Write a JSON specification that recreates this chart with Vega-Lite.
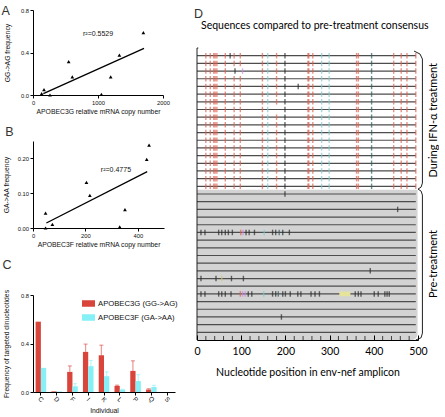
{
"$schema": "https://vega.github.io/schema/vega-lite/v6.json",
"padding": {"left": 1, "top": 4, "right": 0, "bottom": 0},
"background": "white",
"config": {
 "view": {"stroke": null},
 "font": "Liberation Sans",
 "axis": {"grid": false, "domainColor": "#000", "tickColor": "#000", "labelColor": "#111", "titleColor": "#111", "labelFont": "Liberation Sans", "titleFont": "Liberation Sans", "labelFontSize": 5.8, "titleFontSize": 6.8, "titleFontWeight": "normal", "tickSize": 3, "labelPadding": 1.5, "labelFlush": false, "labelOverlap": false, "domainWidth": 1, "tickWidth": 1},
 "title": {"font": "Liberation Sans", "fontSize": 12.5, "fontWeight": "normal", "color": "#333", "anchor": "start", "frame": "bounds"}
},
"resolve": {"scale": {"color": "independent"}},
"datasets": {
 "a_pts": [{"x":133,"y":0.013},{"x":169,"y":0.05},{"x":262,"y":0.0},{"x":549,"y":0.314},{"x":605,"y":0.17},{"x":1052,"y":0.005},{"x":1195,"y":0.17},{"x":1329,"y":0.376},{"x":1698,"y":0.587}],
 "a_fit": [{"x":159,"y":0.0125},{"x":1708,"y":0.439}],
 "a_r2": [{"x":769,"y":0.571,"t":"r²=0.5529"}],
 "b_pts": [{"x":48,"y":0.043},{"x":74,"y":0.0105},{"x":48,"y":0.0},{"x":204,"y":0.131},{"x":217,"y":0.094},{"x":331,"y":0.003},{"x":351,"y":0.053},{"x":434,"y":0.197},{"x":443,"y":0.238}],
 "b_fit": [{"x":51,"y":0.0144},{"x":436,"y":0.162}],
 "b_r2": [{"x":259,"y":0.1675,"t":"r²=0.4775"}],
 "c_bars": [
  {"ind":"C","enz":"APOBEC3G (GG->AG)","v":0.58},{"ind":"C","enz":"APOBEC3F (GA->AA)","v":0.199},
  {"ind":"D","enz":"APOBEC3G (GG->AG)","v":0.005},{"ind":"D","enz":"APOBEC3F (GA->AA)","v":0.004},
  {"ind":"F","enz":"APOBEC3G (GG->AG)","v":0.166},{"ind":"F","enz":"APOBEC3F (GA->AA)","v":0.047},
  {"ind":"I","enz":"APOBEC3G (GG->AG)","v":0.331},{"ind":"I","enz":"APOBEC3F (GA->AA)","v":0.213},
  {"ind":"K","enz":"APOBEC3G (GG->AG)","v":0.303},{"ind":"K","enz":"APOBEC3F (GA->AA)","v":0.13},
  {"ind":"L","enz":"APOBEC3G (GG->AG)","v":0.05},{"ind":"L","enz":"APOBEC3F (GA->AA)","v":0.019},
  {"ind":"P","enz":"APOBEC3G (GG->AG)","v":0.174},{"ind":"P","enz":"APOBEC3F (GA->AA)","v":0.09},
  {"ind":"Q","enz":"APOBEC3G (GG->AG)","v":0.02},{"ind":"Q","enz":"APOBEC3F (GA->AA)","v":0.041},
  {"ind":"S","enz":"APOBEC3G (GG->AG)","v":0},{"ind":"S","enz":"APOBEC3F (GA->AA)","v":0}],
 "c_err": [
  {"ind":"F","enz":"APOBEC3G (GG->AG)","v":0.166,"hi":0.215},{"ind":"F","enz":"APOBEC3F (GA->AA)","v":0.047,"hi":0.069},
  {"ind":"I","enz":"APOBEC3G (GG->AG)","v":0.331,"hi":0.395},{"ind":"I","enz":"APOBEC3F (GA->AA)","v":0.213,"hi":0.26},
  {"ind":"K","enz":"APOBEC3G (GG->AG)","v":0.303,"hi":0.386},{"ind":"K","enz":"APOBEC3F (GA->AA)","v":0.13,"hi":0.166},
  {"ind":"L","enz":"APOBEC3G (GG->AG)","v":0.05,"hi":0.056},{"ind":"L","enz":"APOBEC3F (GA->AA)","v":0.019,"hi":0.022},
  {"ind":"P","enz":"APOBEC3G (GG->AG)","v":0.174,"hi":0.257},{"ind":"P","enz":"APOBEC3F (GA->AA)","v":0.09,"hi":0.143},
  {"ind":"Q","enz":"APOBEC3G (GG->AG)","v":0.02,"hi":0.027},{"ind":"Q","enz":"APOBEC3F (GA->AA)","v":0.041,"hi":0.055}],
 "d_rows": [{"r":0},{"r":1},{"r":2},{"r":3},{"r":4},{"r":5},{"r":6},{"r":7},{"r":8},{"r":9},{"r":10},{"r":11},{"r":12},{"r":13},{"r":14},{"r":15},{"r":16},{"r":17},{"r":18},{"r":19},{"r":20},{"r":21},{"r":22},{"r":23},{"r":24},{"r":25},{"r":26},{"r":27},{"r":28},{"r":29},{"r":30},{"r":31},{"r":32},{"r":33},{"r":34},{"r":35},{"r":36}],
 "d_minor": [{"p":20},{"p":40},{"p":60},{"p":80},{"p":120},{"p":140},{"p":160},{"p":180},{"p":220},{"p":240},{"p":260},{"p":280},{"p":320},{"p":340},{"p":360},{"p":380},{"p":420},{"p":440},{"p":460},{"p":480}],
 "d_muts": [
{"r":0,"p":20,"c":"R"},{"r":0,"p":30,"c":"R"},{"r":0,"p":38,"c":"R"},{"r":0,"p":41,"c":"R"},{"r":0,"p":45,"c":"R"},{"r":0,"p":64,"c":"R"},{"r":0,"p":75,"c":"K"},{"r":0,"p":84,"c":"R"},{"r":0,"p":98,"c":"R"},{"r":0,"p":148,"c":"R"},{"r":0,"p":160,"c":"C"},{"r":0,"p":180,"c":"R"},{"r":0,"p":199,"c":"K"},{"r":0,"p":251,"c":"R"},{"r":0,"p":253,"c":"R"},{"r":0,"p":262,"c":"R"},{"r":0,"p":282,"c":"C"},{"r":0,"p":299,"c":"C"},{"r":0,"p":361,"c":"R"},{"r":0,"p":365,"c":"R"},{"r":0,"p":395,"c":"T"},{"r":0,"p":445,"c":"R"},{"r":0,"p":462,"c":"R"},{"r":0,"p":475,"c":"R"},{"r":0,"p":495,"c":"R"},
{"r":1,"p":20,"c":"R"},{"r":1,"p":30,"c":"R"},{"r":1,"p":38,"c":"R"},{"r":1,"p":41,"c":"R"},{"r":1,"p":45,"c":"R"},{"r":1,"p":64,"c":"R"},{"r":1,"p":84,"c":"R"},{"r":1,"p":98,"c":"R"},{"r":1,"p":148,"c":"R"},{"r":1,"p":160,"c":"C"},{"r":1,"p":180,"c":"R"},{"r":1,"p":199,"c":"K"},{"r":1,"p":251,"c":"R"},{"r":1,"p":253,"c":"R"},{"r":1,"p":262,"c":"R"},{"r":1,"p":282,"c":"C"},{"r":1,"p":299,"c":"C"},{"r":1,"p":361,"c":"R"},{"r":1,"p":365,"c":"R"},{"r":1,"p":395,"c":"T"},{"r":1,"p":445,"c":"R"},{"r":1,"p":462,"c":"R"},{"r":1,"p":475,"c":"R"},{"r":1,"p":495,"c":"R"},
{"r":2,"p":20,"c":"R"},{"r":2,"p":30,"c":"R"},{"r":2,"p":38,"c":"R"},{"r":2,"p":41,"c":"R"},{"r":2,"p":45,"c":"R"},{"r":2,"p":64,"c":"R"},{"r":2,"p":86,"c":"K"},{"r":2,"p":103,"c":"M"},{"r":2,"p":148,"c":"R"},{"r":2,"p":160,"c":"C"},{"r":2,"p":180,"c":"R"},{"r":2,"p":199,"c":"K"},{"r":2,"p":251,"c":"R"},{"r":2,"p":253,"c":"R"},{"r":2,"p":262,"c":"R"},{"r":2,"p":282,"c":"C"},{"r":2,"p":299,"c":"C"},{"r":2,"p":361,"c":"R"},{"r":2,"p":365,"c":"R"},{"r":2,"p":395,"c":"T"},{"r":2,"p":445,"c":"R"},{"r":2,"p":462,"c":"R"},{"r":2,"p":475,"c":"R"},{"r":2,"p":495,"c":"R"},
{"r":3,"p":20,"c":"R"},{"r":3,"p":30,"c":"R"},{"r":3,"p":38,"c":"R"},{"r":3,"p":41,"c":"R"},{"r":3,"p":45,"c":"R"},{"r":3,"p":64,"c":"R"},{"r":3,"p":84,"c":"R"},{"r":3,"p":98,"c":"R"},{"r":3,"p":148,"c":"R"},{"r":3,"p":160,"c":"C"},{"r":3,"p":180,"c":"R"},{"r":3,"p":199,"c":"K"},{"r":3,"p":251,"c":"R"},{"r":3,"p":253,"c":"R"},{"r":3,"p":262,"c":"R"},{"r":3,"p":282,"c":"C"},{"r":3,"p":299,"c":"C"},{"r":3,"p":361,"c":"R"},{"r":3,"p":365,"c":"R"},{"r":3,"p":395,"c":"T"},{"r":3,"p":445,"c":"R"},{"r":3,"p":462,"c":"R"},{"r":3,"p":475,"c":"R"},{"r":3,"p":495,"c":"R"},
{"r":4,"p":20,"c":"R"},{"r":4,"p":30,"c":"R"},{"r":4,"p":38,"c":"R"},{"r":4,"p":41,"c":"R"},{"r":4,"p":45,"c":"R"},{"r":4,"p":64,"c":"R"},{"r":4,"p":84,"c":"R"},{"r":4,"p":98,"c":"R"},{"r":4,"p":148,"c":"R"},{"r":4,"p":160,"c":"C"},{"r":4,"p":180,"c":"R"},{"r":4,"p":199,"c":"K"},{"r":4,"p":229,"c":"K"},{"r":4,"p":251,"c":"R"},{"r":4,"p":253,"c":"R"},{"r":4,"p":262,"c":"R"},{"r":4,"p":282,"c":"C"},{"r":4,"p":299,"c":"C"},{"r":4,"p":361,"c":"R"},{"r":4,"p":365,"c":"R"},{"r":4,"p":395,"c":"T"},{"r":4,"p":445,"c":"R"},{"r":4,"p":462,"c":"R"},{"r":4,"p":475,"c":"R"},{"r":4,"p":495,"c":"R"},
{"r":5,"p":20,"c":"R"},{"r":5,"p":30,"c":"R"},{"r":5,"p":38,"c":"R"},{"r":5,"p":41,"c":"R"},{"r":5,"p":45,"c":"R"},{"r":5,"p":64,"c":"R"},{"r":5,"p":84,"c":"R"},{"r":5,"p":98,"c":"R"},{"r":5,"p":148,"c":"R"},{"r":5,"p":160,"c":"C"},{"r":5,"p":180,"c":"R"},{"r":5,"p":199,"c":"K"},{"r":5,"p":251,"c":"R"},{"r":5,"p":253,"c":"R"},{"r":5,"p":262,"c":"R"},{"r":5,"p":282,"c":"C"},{"r":5,"p":299,"c":"C"},{"r":5,"p":361,"c":"R"},{"r":5,"p":365,"c":"R"},{"r":5,"p":395,"c":"T"},{"r":5,"p":445,"c":"R"},{"r":5,"p":462,"c":"R"},{"r":5,"p":475,"c":"R"},{"r":5,"p":495,"c":"R"},
{"r":6,"p":20,"c":"R"},{"r":6,"p":30,"c":"R"},{"r":6,"p":38,"c":"R"},{"r":6,"p":41,"c":"R"},{"r":6,"p":45,"c":"R"},{"r":6,"p":64,"c":"R"},{"r":6,"p":84,"c":"R"},{"r":6,"p":98,"c":"R"},{"r":6,"p":148,"c":"R"},{"r":6,"p":160,"c":"C"},{"r":6,"p":180,"c":"R"},{"r":6,"p":199,"c":"K"},{"r":6,"p":251,"c":"R"},{"r":6,"p":253,"c":"R"},{"r":6,"p":262,"c":"R"},{"r":6,"p":282,"c":"C"},{"r":6,"p":299,"c":"C"},{"r":6,"p":361,"c":"R"},{"r":6,"p":365,"c":"R"},{"r":6,"p":395,"c":"T"},{"r":6,"p":445,"c":"R"},{"r":6,"p":462,"c":"R"},{"r":6,"p":475,"c":"R"},{"r":6,"p":495,"c":"R"},
{"r":7,"p":20,"c":"R"},{"r":7,"p":30,"c":"R"},{"r":7,"p":38,"c":"R"},{"r":7,"p":41,"c":"R"},{"r":7,"p":45,"c":"R"},{"r":7,"p":64,"c":"R"},{"r":7,"p":84,"c":"R"},{"r":7,"p":98,"c":"R"},{"r":7,"p":148,"c":"R"},{"r":7,"p":160,"c":"C"},{"r":7,"p":199,"c":"K"},{"r":7,"p":251,"c":"R"},{"r":7,"p":253,"c":"R"},{"r":7,"p":262,"c":"R"},{"r":7,"p":282,"c":"C"},{"r":7,"p":299,"c":"C"},{"r":7,"p":361,"c":"R"},{"r":7,"p":365,"c":"R"},{"r":7,"p":395,"c":"T"},{"r":7,"p":445,"c":"R"},{"r":7,"p":462,"c":"R"},{"r":7,"p":475,"c":"R"},{"r":7,"p":495,"c":"R"},
{"r":8,"p":20,"c":"R"},{"r":8,"p":30,"c":"R"},{"r":8,"p":38,"c":"R"},{"r":8,"p":41,"c":"R"},{"r":8,"p":45,"c":"R"},{"r":8,"p":64,"c":"R"},{"r":8,"p":84,"c":"R"},{"r":8,"p":98,"c":"R"},{"r":8,"p":148,"c":"R"},{"r":8,"p":160,"c":"C"},{"r":8,"p":180,"c":"R"},{"r":8,"p":199,"c":"K"},{"r":8,"p":251,"c":"R"},{"r":8,"p":253,"c":"R"},{"r":8,"p":262,"c":"R"},{"r":8,"p":282,"c":"C"},{"r":8,"p":299,"c":"C"},{"r":8,"p":361,"c":"R"},{"r":8,"p":365,"c":"R"},{"r":8,"p":395,"c":"T"},{"r":8,"p":445,"c":"R"},{"r":8,"p":462,"c":"R"},{"r":8,"p":475,"c":"R"},{"r":8,"p":495,"c":"R"},
{"r":9,"p":20,"c":"R"},{"r":9,"p":30,"c":"R"},{"r":9,"p":38,"c":"R"},{"r":9,"p":41,"c":"R"},{"r":9,"p":45,"c":"R"},{"r":9,"p":64,"c":"R"},{"r":9,"p":84,"c":"R"},{"r":9,"p":98,"c":"R"},{"r":9,"p":148,"c":"R"},{"r":9,"p":160,"c":"C"},{"r":9,"p":180,"c":"R"},{"r":9,"p":199,"c":"K"},{"r":9,"p":251,"c":"R"},{"r":9,"p":253,"c":"R"},{"r":9,"p":262,"c":"R"},{"r":9,"p":282,"c":"C"},{"r":9,"p":299,"c":"C"},{"r":9,"p":361,"c":"R"},{"r":9,"p":365,"c":"R"},{"r":9,"p":395,"c":"T"},{"r":9,"p":445,"c":"R"},{"r":9,"p":462,"c":"R"},{"r":9,"p":475,"c":"R"},{"r":9,"p":495,"c":"R"},
{"r":10,"p":20,"c":"R"},{"r":10,"p":30,"c":"R"},{"r":10,"p":38,"c":"R"},{"r":10,"p":41,"c":"R"},{"r":10,"p":45,"c":"R"},{"r":10,"p":64,"c":"R"},{"r":10,"p":84,"c":"R"},{"r":10,"p":98,"c":"R"},{"r":10,"p":148,"c":"R"},{"r":10,"p":160,"c":"C"},{"r":10,"p":180,"c":"R"},{"r":10,"p":199,"c":"K"},{"r":10,"p":251,"c":"R"},{"r":10,"p":253,"c":"R"},{"r":10,"p":262,"c":"R"},{"r":10,"p":282,"c":"C"},{"r":10,"p":299,"c":"C"},{"r":10,"p":361,"c":"R"},{"r":10,"p":365,"c":"R"},{"r":10,"p":395,"c":"T"},{"r":10,"p":445,"c":"R"},{"r":10,"p":462,"c":"R"},{"r":10,"p":475,"c":"R"},{"r":10,"p":495,"c":"R"},
{"r":11,"p":20,"c":"R"},{"r":11,"p":30,"c":"R"},{"r":11,"p":38,"c":"R"},{"r":11,"p":41,"c":"R"},{"r":11,"p":45,"c":"R"},{"r":11,"p":64,"c":"R"},{"r":11,"p":84,"c":"R"},{"r":11,"p":98,"c":"R"},{"r":11,"p":148,"c":"R"},{"r":11,"p":160,"c":"C"},{"r":11,"p":180,"c":"R"},{"r":11,"p":199,"c":"K"},{"r":11,"p":251,"c":"R"},{"r":11,"p":253,"c":"R"},{"r":11,"p":262,"c":"R"},{"r":11,"p":282,"c":"C"},{"r":11,"p":299,"c":"C"},{"r":11,"p":361,"c":"R"},{"r":11,"p":365,"c":"R"},{"r":11,"p":395,"c":"T"},{"r":11,"p":445,"c":"R"},{"r":11,"p":462,"c":"R"},{"r":11,"p":475,"c":"R"},{"r":11,"p":495,"c":"R"},
{"r":12,"p":20,"c":"R"},{"r":12,"p":30,"c":"R"},{"r":12,"p":38,"c":"R"},{"r":12,"p":41,"c":"R"},{"r":12,"p":45,"c":"R"},{"r":12,"p":64,"c":"R"},{"r":12,"p":84,"c":"R"},{"r":12,"p":98,"c":"R"},{"r":12,"p":148,"c":"R"},{"r":12,"p":160,"c":"C"},{"r":12,"p":180,"c":"R"},{"r":12,"p":199,"c":"K"},{"r":12,"p":251,"c":"R"},{"r":12,"p":253,"c":"R"},{"r":12,"p":262,"c":"R"},{"r":12,"p":282,"c":"C"},{"r":12,"p":299,"c":"C"},{"r":12,"p":361,"c":"R"},{"r":12,"p":365,"c":"R"},{"r":12,"p":395,"c":"T"},{"r":12,"p":445,"c":"R"},{"r":12,"p":462,"c":"R"},{"r":12,"p":475,"c":"R"},{"r":12,"p":495,"c":"R"},
{"r":13,"p":20,"c":"R"},{"r":13,"p":30,"c":"R"},{"r":13,"p":38,"c":"R"},{"r":13,"p":41,"c":"R"},{"r":13,"p":45,"c":"R"},{"r":13,"p":64,"c":"R"},{"r":13,"p":84,"c":"R"},{"r":13,"p":98,"c":"R"},{"r":13,"p":148,"c":"R"},{"r":13,"p":160,"c":"C"},{"r":13,"p":180,"c":"R"},{"r":13,"p":199,"c":"K"},{"r":13,"p":251,"c":"R"},{"r":13,"p":253,"c":"R"},{"r":13,"p":262,"c":"R"},{"r":13,"p":282,"c":"C"},{"r":13,"p":299,"c":"C"},{"r":13,"p":361,"c":"R"},{"r":13,"p":365,"c":"R"},{"r":13,"p":395,"c":"T"},{"r":13,"p":445,"c":"R"},{"r":13,"p":462,"c":"R"},{"r":13,"p":475,"c":"R"},{"r":13,"p":495,"c":"R"},
{"r":14,"p":20,"c":"R"},{"r":14,"p":30,"c":"R"},{"r":14,"p":38,"c":"R"},{"r":14,"p":41,"c":"R"},{"r":14,"p":45,"c":"R"},{"r":14,"p":64,"c":"R"},{"r":14,"p":84,"c":"R"},{"r":14,"p":98,"c":"R"},{"r":14,"p":148,"c":"R"},{"r":14,"p":160,"c":"C"},{"r":14,"p":180,"c":"R"},{"r":14,"p":199,"c":"K"},{"r":14,"p":251,"c":"R"},{"r":14,"p":253,"c":"R"},{"r":14,"p":262,"c":"R"},{"r":14,"p":282,"c":"C"},{"r":14,"p":299,"c":"C"},{"r":14,"p":361,"c":"R"},{"r":14,"p":365,"c":"R"},{"r":14,"p":395,"c":"T"},{"r":14,"p":445,"c":"R"},{"r":14,"p":462,"c":"R"},{"r":14,"p":475,"c":"R"},{"r":14,"p":495,"c":"R"},
{"r":15,"p":20,"c":"R"},{"r":15,"p":30,"c":"R"},{"r":15,"p":38,"c":"R"},{"r":15,"p":41,"c":"R"},{"r":15,"p":45,"c":"R"},{"r":15,"p":64,"c":"R"},{"r":15,"p":84,"c":"R"},{"r":15,"p":98,"c":"R"},{"r":15,"p":148,"c":"R"},{"r":15,"p":160,"c":"C"},{"r":15,"p":180,"c":"R"},{"r":15,"p":199,"c":"K"},{"r":15,"p":251,"c":"R"},{"r":15,"p":253,"c":"R"},{"r":15,"p":262,"c":"R"},{"r":15,"p":282,"c":"C"},{"r":15,"p":299,"c":"C"},{"r":15,"p":361,"c":"R"},{"r":15,"p":365,"c":"R"},{"r":15,"p":395,"c":"T"},{"r":15,"p":445,"c":"R"},{"r":15,"p":462,"c":"R"},{"r":15,"p":475,"c":"R"},{"r":15,"p":495,"c":"R"},
{"r":16,"p":20,"c":"R"},{"r":16,"p":30,"c":"R"},{"r":16,"p":38,"c":"R"},{"r":16,"p":41,"c":"R"},{"r":16,"p":45,"c":"R"},{"r":16,"p":64,"c":"R"},{"r":16,"p":84,"c":"R"},{"r":16,"p":98,"c":"R"},{"r":16,"p":148,"c":"R"},{"r":16,"p":160,"c":"C"},{"r":16,"p":180,"c":"R"},{"r":16,"p":199,"c":"K"},{"r":16,"p":251,"c":"R"},{"r":16,"p":253,"c":"R"},{"r":16,"p":262,"c":"R"},{"r":16,"p":282,"c":"C"},{"r":16,"p":299,"c":"C"},{"r":16,"p":361,"c":"R"},{"r":16,"p":365,"c":"R"},{"r":16,"p":395,"c":"T"},{"r":16,"p":445,"c":"R"},{"r":16,"p":462,"c":"R"},{"r":16,"p":475,"c":"R"},{"r":16,"p":495,"c":"R"},
{"r":17,"p":20,"c":"R"},{"r":17,"p":30,"c":"R"},{"r":17,"p":38,"c":"R"},{"r":17,"p":41,"c":"R"},{"r":17,"p":45,"c":"R"},{"r":17,"p":64,"c":"R"},{"r":17,"p":84,"c":"R"},{"r":17,"p":98,"c":"R"},{"r":17,"p":148,"c":"R"},{"r":17,"p":160,"c":"C"},{"r":17,"p":180,"c":"R"},{"r":17,"p":199,"c":"K"},{"r":17,"p":251,"c":"R"},{"r":17,"p":253,"c":"R"},{"r":17,"p":262,"c":"R"},{"r":17,"p":282,"c":"C"},{"r":17,"p":299,"c":"C"},{"r":17,"p":361,"c":"R"},{"r":17,"p":365,"c":"R"},{"r":17,"p":395,"c":"T"},{"r":17,"p":445,"c":"R"},{"r":17,"p":462,"c":"R"},{"r":17,"p":475,"c":"R"},{"r":17,"p":495,"c":"R"},
{"r":18,"p":199,"c":"K"},
{"r":20,"p":454,"c":"K"},
{"r":23,"p":9,"c":"K"},{"r":23,"p":18,"c":"K"},{"r":23,"p":49,"c":"K"},{"r":23,"p":56,"c":"K"},{"r":23,"p":64,"c":"K"},{"r":23,"p":71,"c":"K"},{"r":23,"p":80,"c":"K"},{"r":23,"p":99,"c":"R"},{"r":23,"p":104,"c":"M"},{"r":23,"p":111,"c":"K"},{"r":23,"p":118,"c":"K"},{"r":23,"p":130,"c":"K"},{"r":23,"p":152,"c":"C"},{"r":23,"p":171,"c":"K"},{"r":23,"p":178,"c":"K"},{"r":23,"p":186,"c":"T"},{"r":23,"p":194,"c":"K"},{"r":23,"p":209,"c":"K"},
{"r":28,"p":392,"c":"K"},
{"r":29,"p":9,"c":"K"},{"r":29,"p":43,"c":"K"},{"r":29,"p":56,"c":"Y"},{"r":29,"p":78,"c":"K"},{"r":29,"p":105,"c":"K"},
{"r":31,"p":9,"c":"K"},{"r":31,"p":18,"c":"K"},{"r":31,"p":49,"c":"K"},{"r":31,"p":56,"c":"K"},{"r":31,"p":64,"c":"K"},{"r":31,"p":77,"c":"K"},{"r":31,"p":98,"c":"R"},{"r":31,"p":103,"c":"M"},{"r":31,"p":109,"c":"M"},{"r":31,"p":116,"c":"K"},{"r":31,"p":124,"c":"K"},{"r":31,"p":151,"c":"C"},{"r":31,"p":171,"c":"K"},{"r":31,"p":178,"c":"K"},{"r":31,"p":184,"c":"T"},{"r":31,"p":194,"c":"K"},{"r":31,"p":200,"c":"K"},{"r":31,"p":211,"c":"K"},{"r":31,"p":228,"c":"K"},{"r":31,"p":235,"c":"K"},{"r":31,"p":258,"c":"K"},{"r":31,"p":267,"c":"K"},{"r":31,"p":277,"c":"K"},{"r":31,"p":358,"c":"K"},{"r":31,"p":365,"c":"K"},{"r":31,"p":371,"c":"K"},{"r":31,"p":401,"c":"K"},{"r":31,"p":410,"c":"K"},{"r":31,"p":425,"c":"K"},{"r":31,"p":430,"c":"K"},{"r":31,"p":435,"c":"K"},
{"r":34,"p":191,"c":"K"}
 ],
 "d_box": [{"x1":322,"x2":347,"y1":30.7,"y2":31.3}],
 "d_bracket": [{"g":"right","i":0,"x":491,"y":-0.61},{"g":"right","i":1,"x":504.5,"y":-0.22},{"g":"right","i":2,"x":510,"y":0.43},{"g":"right","i":3,"x":510,"y":16.58},{"g":"right","i":4,"x":507,"y":17.1},{"g":"right","i":5,"x":500,"y":17.36},{"g":"right","i":6,"x":507,"y":17.62},{"g":"right","i":7,"x":510,"y":18.14},{"g":"right","i":8,"x":510,"y":36.1},{"g":"right","i":9,"x":507,"y":36.7},{"g":"right","i":10,"x":495,"y":37.0},
   {"g":"left","i":0,"x":3,"y":-1},{"g":"left","i":1,"x":0,"y":-1},{"g":"left","i":2,"x":0,"y":37}],
 "d_side": [{"x":536,"y":8.4,"t":"During IFN-α treatment"},{"x":536,"y":27.1,"t":"Pre-treatment"}],
 "d_letter": [{"x":-7,"y":-4.95,"t":"D"}],
 "d_head": [{"x":9,"y":-3.45,"t":"Sequences compared to pre-treatment consensus"}]
},
"concat": [
 {"vconcat": [
  {"width": 130, "height": 85,
   "title": {"text": "A", "offset": -10, "dx": -3},
   "layer": [
    {"data": {"name": "a_pts"}, "mark": {"type": "point", "shape": "triangle-up", "filled": true, "color": "#000", "size": 14, "opacity": 1},
     "encoding": {
      "x": {"field": "x", "type": "quantitative", "scale": {"domain": [0, 2000], "nice": false}, "axis": {"values": [0, 500, 1000, 1500, 2000], "format": "d", "labelOverlap": false, "labelFlush": false, "title": "APOBEC3G  relative mRNA copy number", "titlePadding": 3}},
      "y": {"field": "y", "type": "quantitative", "scale": {"domain": [0, 0.8], "nice": false}, "axis": {"values": [0, 0.2, 0.4, 0.6, 0.8], "format": ".1f", "labelOverlap": false, "labelFlush": false, "title": "GG->AG frequency", "titlePadding": 10}}}},
    {"data": {"name": "a_fit"}, "mark": {"type": "line", "color": "#000", "strokeWidth": 1.3},
     "encoding": {"x": {"field": "x", "type": "quantitative"}, "y": {"field": "y", "type": "quantitative"}}},
    {"data": {"name": "a_r2"}, "mark": {"type": "text", "align": "left", "baseline": "middle", "fontSize": 7, "font": "Liberation Sans", "color": "#111"},
     "encoding": {"x": {"field": "x", "type": "quantitative"}, "y": {"field": "y", "type": "quantitative"}, "text": {"field": "t"}}}
   ]},
  {"width": 131, "height": 87,
   "title": {"text": "B", "offset": 3, "dx": 2},
   "layer": [
    {"data": {"name": "b_pts"}, "mark": {"type": "point", "shape": "triangle-up", "filled": true, "color": "#000", "size": 14, "opacity": 1},
     "encoding": {
      "x": {"field": "x", "type": "quantitative", "scale": {"domain": [0, 500], "nice": false}, "axis": {"values": [0, 100, 200, 300, 400, 500], "format": "d", "labelOverlap": false, "labelFlush": false, "title": "APOBEC3F  relative mRNA copy number", "titlePadding": 3}},
      "y": {"field": "y", "type": "quantitative", "scale": {"domain": [0, 0.25], "nice": false}, "axis": {"values": [0, 0.05, 0.1, 0.15, 0.2, 0.25], "format": ".2f", "labelOverlap": false, "labelFlush": false, "title": "GA->AA frequency", "titlePadding": 8}}}},
    {"data": {"name": "b_fit"}, "mark": {"type": "line", "color": "#000", "strokeWidth": 1.3},
     "encoding": {"x": {"field": "x", "type": "quantitative"}, "y": {"field": "y", "type": "quantitative"}}},
    {"data": {"name": "b_r2"}, "mark": {"type": "text", "align": "left", "baseline": "middle", "fontSize": 7, "font": "Liberation Sans", "color": "#111"},
     "encoding": {"x": {"field": "x", "type": "quantitative"}, "y": {"field": "y", "type": "quantitative"}, "text": {"field": "t"}}}
   ]},
  {"width": 142, "height": 97,
   "title": {"text": "C", "offset": 18, "dx": -1},
   "layer": [
    {"data": {"name": "c_bars"}, "mark": {"type": "bar"},
     "encoding": {
      "x": {"field": "ind", "type": "nominal", "scale": {"domain": ["C","D","F","I","K","L","P","Q","S"], "paddingInner": 0.33, "paddingOuter": 0.165}, "axis": {"title": "Individual", "labelAngle": 45, "labelAlign": "center", "labelBaseline": "middle", "labelPadding": 4, "titlePadding": 4, "labelFontSize": 6.5, "labelOverlap": false}},
      "xOffset": {"field": "enz", "type": "nominal", "scale": {"domain": ["APOBEC3G (GG->AG)", "APOBEC3F (GA->AA)"], "paddingInner": 0, "paddingOuter": 0}},
      "y": {"field": "v", "type": "quantitative", "scale": {"domain": [0, 0.8], "nice": false}, "axis": {"values": [0, 0.2, 0.4, 0.6, 0.8], "format": ".1f", "labelOverlap": false, "labelFlush": false, "title": "Frequency of targeted dinucleotides", "titlePadding": 11}},
      "color": {"field": "enz", "type": "nominal", "scale": {"domain": ["APOBEC3G (GG->AG)", "APOBEC3F (GA->AA)"], "range": ["#d9443b", "#85f0f5"]},
       "legend": {"title": null, "orient": "none", "legendX": 49, "legendY": 287, "symbolType": "M-1,-0.5H1V0.5H-1Z", "symbolSize": 169, "symbolStrokeWidth": 0, "labelFont": "Liberation Sans", "labelFontSize": 7.7, "labelColor": "#111", "labelOffset": 3, "rowPadding": 3, "padding": 0}}}},
    {"data": {"name": "c_err"}, "mark": {"type": "rule", "strokeWidth": 1.2, "opacity": 0.55},
     "encoding": {
      "x": {"field": "ind", "type": "nominal"},
      "xOffset": {"field": "enz", "type": "nominal"},
      "y": {"field": "v", "type": "quantitative"}, "y2": {"field": "hi"},
      "color": {"field": "enz", "type": "nominal", "legend": null}}},
    {"data": {"name": "c_err"}, "mark": {"type": "tick", "orient": "horizontal", "size": 4, "thickness": 1.2, "opacity": 0.55},
     "encoding": {
      "x": {"field": "ind", "type": "nominal"},
      "xOffset": {"field": "enz", "type": "nominal"},
      "y": {"field": "hi", "type": "quantitative"},
      "color": {"field": "enz", "type": "nominal", "legend": null}}}
   ]}
 ], "spacing": 9},
 {"width": 221, "height": 330,
  "layer": [
   {"data": {"values": [{}]}, "mark": {"type": "rect", "color": "#d3d3d3", "cornerRadiusBottomRight": 6},
    "encoding": {
     "x": {"datum": 0, "type": "quantitative", "scale": {"domain": [0, 500], "nice": false, "zero": false}}, "x2": {"datum": 499},
     "y": {"datum": 17.45, "type": "quantitative", "scale": {"domain": [-5.95, 37], "nice": false, "zero": false, "reverse": true}}, "y2": {"datum": 37}}},
   {"data": {"name": "d_rows"}, "mark": {"type": "rule", "color": "#4d4d4d", "strokeWidth": 1.2},
    "encoding": {
     "x": {"datum": 0, "type": "quantitative", "scale": {"domain": [0, 500], "nice": false, "zero": false},
      "axis": {"values": [0, 100, 200, 300, 400, 500], "format": "d", "zindex": 1, "labelOverlap": false, "labelFlush": false, "tickSize": -5, "labelFont": "Lato", "labelFontSize": 10.5, "labelColor": "#000", "labelPadding": 11, "title": "Nucleotide position in env-nef amplicon", "titleFont": "Lato", "titleFontSize": 10.5, "titleColor": "#000", "titlePadding": 11}},
     "x2": {"datum": 495},
     "y": {"field": "r", "type": "quantitative", "scale": {"domain": [-5.95, 37], "nice": false, "zero": false, "reverse": true}, "axis": {"title": null, "labels": false, "ticks": false, "domain": false}}}},
   {"data": {"name": "d_minor"}, "mark": {"type": "tick", "orient": "vertical", "size": 4, "thickness": 1, "color": "#000"},
    "encoding": {
     "x": {"field": "p", "type": "quantitative", "scale": {"domain": [0, 500], "nice": false, "zero": false}},
     "y": {"datum": 36.74, "type": "quantitative", "scale": {"domain": [-5.95, 37], "nice": false, "zero": false, "reverse": true}}}},
   {"data": {"name": "d_muts"}, "mark": {"type": "tick", "orient": "vertical", "size": 5.5, "thickness": 1.4},
    "encoding": {
     "x": {"field": "p", "type": "quantitative", "scale": {"domain": [0, 500], "nice": false, "zero": false}},
     "y": {"field": "r", "type": "quantitative", "scale": {"domain": [-5.95, 37], "nice": false, "zero": false, "reverse": true}},
     "color": {"field": "c", "type": "nominal", "scale": {"domain": ["R","C","K","T","M","Y"], "range": ["#e0604f","#7fc9cc","#2b2b2b","#2e5c5f","#c88ae6","#cfc86a"]}, "legend": null}}},
   {"data": {"name": "d_box"}, "mark": {"type": "rect", "color": "#e6e39a"},
    "encoding": {
     "x": {"field": "x1", "type": "quantitative", "scale": {"domain": [0, 500], "nice": false, "zero": false}}, "x2": {"field": "x2"},
     "y": {"field": "y1", "type": "quantitative", "scale": {"domain": [-5.95, 37], "nice": false, "zero": false, "reverse": true}}, "y2": {"field": "y2"}}},
   {"data": {"name": "d_bracket"}, "mark": {"type": "line", "color": "#222", "strokeWidth": 1},
    "encoding": {
     "x": {"field": "x", "type": "quantitative", "scale": {"domain": [0, 500], "nice": false, "zero": false}},
     "y": {"field": "y", "type": "quantitative", "scale": {"domain": [-5.95, 37], "nice": false, "zero": false, "reverse": true}},
     "detail": {"field": "g", "type": "nominal"},
     "order": {"field": "i", "type": "quantitative"}}},
   {"data": {"name": "d_side"}, "mark": {"type": "text", "angle": 270, "font": "Lato", "fontSize": 11, "color": "#000", "align": "center", "baseline": "middle"},
    "encoding": {
     "x": {"field": "x", "type": "quantitative", "scale": {"domain": [0, 500], "nice": false, "zero": false}},
     "y": {"field": "y", "type": "quantitative", "scale": {"domain": [-5.95, 37], "nice": false, "zero": false, "reverse": true}},
     "text": {"field": "t"}}},
   {"data": {"name": "d_letter"}, "mark": {"type": "text", "font": "Liberation Sans", "fontSize": 12.5, "color": "#333", "align": "left", "baseline": "alphabetic"},
    "encoding": {
     "x": {"field": "x", "type": "quantitative", "scale": {"domain": [0, 500], "nice": false, "zero": false}},
     "y": {"field": "y", "type": "quantitative", "scale": {"domain": [-5.95, 37], "nice": false, "zero": false, "reverse": true}},
     "text": {"field": "t"}}},
   {"data": {"name": "d_head"}, "mark": {"type": "text", "font": "Lato", "fontSize": 10.5, "color": "#000", "align": "left", "baseline": "alphabetic"},
    "encoding": {
     "x": {"field": "x", "type": "quantitative", "scale": {"domain": [0, 500], "nice": false, "zero": false}},
     "y": {"field": "y", "type": "quantitative", "scale": {"domain": [-5.95, 37], "nice": false, "zero": false, "reverse": true}},
     "text": {"field": "t"}}}
  ]}
],
"columns": 2,
"spacing": 15
}
